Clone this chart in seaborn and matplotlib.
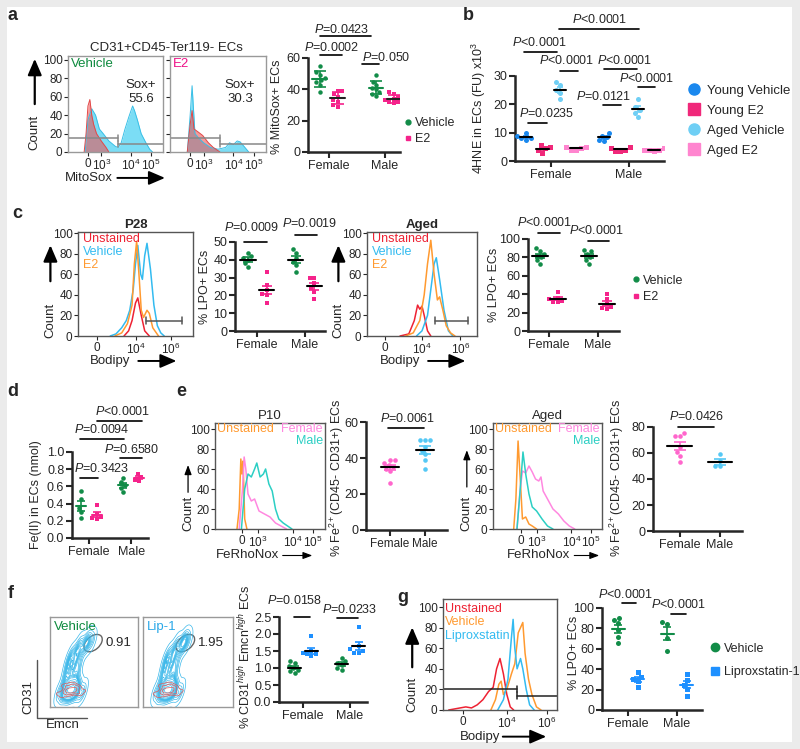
import numpy as np
import matplotlib
matplotlib.use("Agg")
import matplotlib.pyplot as plt
from matplotlib.patches import Rectangle, Ellipse
from matplotlib.lines import Line2D
import seaborn as sns

sns.set_style("ticks")
plt.rcParams["font.family"] = ["Liberation Sans", "DejaVu Sans"]
plt.rcParams["mathtext.fontset"] = "custom"
plt.rcParams["mathtext.rm"] = "Liberation Sans"
plt.rcParams["mathtext.it"] = "Liberation Sans:italic"
plt.rcParams["mathtext.bf"] = "Liberation Sans:bold"

# colours
GREEN = "#128c48"
MAG = "#f5238b"
BLUE = "#1e90ff"
YV, YE2, AV, AE2 = "#1a88ee", "#f0287a", "#6fcff5", "#ff85cf"
FEM, MAL = "#ff66cc", "#55c8f5"
RED, ORANGE, SKY, TEAL, PINK = "#ee2233", "#ff9a30", "#33bbf0", "#2ccfc4", "#ff88e0"
FS = 9  # base text size

# ---------------- data ----------------
sexes = ["Female", "Male"]

# a  % MitoSox+ ECs
a_f_veh = [55, 51, 49, 47, 46, 45, 43, 38]
a_f_e2 = [39, 39, 37, 35, 33, 32, 30, 29]
a_m_veh = [49, 45, 43, 41, 40, 38, 37, 36]
a_m_e2 = [38, 37, 35, 34, 33, 32, 32, 31]
# a histograms (x = fraction of the MitoSox axis)
a_veh_unst_x = [0.17, 0.19, 0.21, 0.23, 0.25, 0.27, 0.30, 0.35, 0.40, 0.43]
a_veh_unst_y = [0, 20, 50, 57, 40, 30, 20, 12, 5, 0]
a_veh_stain_x = [0.18, 0.21, 0.25, 0.29, 0.33, 0.37, 0.43, 0.50, 0.53, 0.56, 0.60, 0.64, 0.68, 0.70, 0.73, 0.77, 0.82, 0.86, 0.89]
a_veh_stain_y = [0, 35, 47, 40, 25, 20, 12, 6, 5, 10, 25, 38, 50, 45, 35, 20, 10, 3, 0]
a_e2_unst_x = [0.18, 0.21, 0.23, 0.25, 0.29, 0.34, 0.40, 0.45, 0.52]
a_e2_unst_y = [0, 30, 45, 25, 22, 18, 10, 5, 0]
a_e2_stain_x = [0.18, 0.21, 0.23, 0.26, 0.30, 0.35, 0.42, 0.50, 0.58, 0.62, 0.66, 0.70, 0.73, 0.78, 0.82]
a_e2_stain_y = [0, 40, 72, 20, 15, 10, 5, 3, 5, 10, 8, 12, 11, 5, 0]

# b  4HNE in ECs
b_f_yv = [10, 9, 8, 8, 7.5]
b_f_ye2 = [5.5, 5, 4.5, 4, 3]
b_f_av = [28, 27, 25, 24, 22]
b_f_ae2 = [5, 5, 4.5, 4, 4]
b_m_yv = [10, 9, 8.5, 7.5, 7]
b_m_ye2 = [5, 4.5, 4, 3.5, 3.5]
b_m_av = [22, 19, 18, 17, 15.5]
b_m_ae2 = [4.5, 4, 4, 3.5, 4]
b_groups = ["Young Vehicle", "Young E2", "Aged Vehicle", "Aged E2"]

# c  % LPO+ ECs
c28_f_veh = [44, 42, 41, 40, 38, 36]
c28_f_e2 = [33, 26, 23, 21, 20, 16]
c28_m_veh = [46, 44, 41, 39, 37, 33]
c28_m_e2 = [30, 30, 27, 24, 22, 18]
cag_f_veh = [90, 87, 84, 82, 80, 77, 73]
cag_f_e2 = [42, 36, 35, 33, 32, 31]
cag_m_veh = [88, 87, 84, 80, 77, 73]
cag_m_e2 = [40, 35, 29, 26, 25, 24]
# c histograms
c28_veh_x = [0.28, 0.33, 0.38, 0.42, 0.45, 0.48, 0.50, 0.52, 0.545, 0.56, 0.58, 0.60, 0.63, 0.66, 0.69, 0.72, 0.75]
c28_veh_y = [0, 2, 8, 15, 25, 45, 70, 88, 60, 55, 78, 90, 65, 30, 10, 3, 0]
c28_e2_x = [0.32, 0.38, 0.43, 0.47, 0.49, 0.51, 0.53, 0.55, 0.57, 0.60, 0.62, 0.65, 0.70]
c28_e2_y = [0, 3, 12, 30, 70, 92, 60, 25, 18, 25, 22, 8, 0]
c28_unst_x = [0.40, 0.44, 0.47, 0.50, 0.52, 0.55, 0.58, 0.62]
c28_unst_y = [0, 5, 15, 32, 37, 20, 5, 0]
cag_e2_x = [0.35, 0.42, 0.48, 0.52, 0.55, 0.58, 0.61, 0.64, 0.66, 0.69, 0.72, 0.76, 0.80]
cag_e2_y = [0, 3, 15, 40, 70, 93, 60, 35, 38, 25, 10, 3, 0]
cag_veh_x = [0.45, 0.50, 0.55, 0.58, 0.61, 0.63, 0.66, 0.70, 0.74, 0.78]
cag_veh_y = [0, 5, 20, 45, 70, 76, 55, 25, 5, 0]
cag_unst_x = [0.30, 0.38, 0.43, 0.46, 0.48, 0.50, 0.52, 0.55, 0.58]
cag_unst_y = [0, 2, 15, 30, 26, 29, 20, 5, 0]

# d  Fe(II) in ECs
d_f_veh = [0.55, 0.45, 0.35, 0.30, 0.23]
d_f_e2 = [0.38, 0.28, 0.24, 0.23, 0.22]
d_m_veh = [0.70, 0.65, 0.62, 0.58, 0.53]
d_m_e2 = [0.75, 0.71, 0.68, 0.66]

# e  % Fe2+ ECs
e10_f = [39, 39, 37, 36, 35, 34, 33, 26]
e10_m = [50, 50, 50, 46, 44, 42, 39, 34]
eag_f = [75, 73, 73, 65, 61, 58, 53]
eag_m = [59, 54, 50, 50]
# e histograms
e10_unst_x = [0.20, 0.22, 0.235, 0.245, 0.255, 0.27, 0.29]
e10_unst_y = [0, 20, 70, 55, 68, 10, 0]
e10_fem_x = [0.22, 0.25, 0.265, 0.28, 0.30, 0.33, 0.36, 0.40, 0.45, 0.50, 0.55, 0.60, 0.65]
e10_fem_y = [0, 40, 72, 60, 35, 28, 30, 18, 15, 12, 6, 3, 0]
e10_mal_x = [0.24, 0.27, 0.30, 0.33, 0.36, 0.38, 0.41, 0.44, 0.46, 0.49, 0.52, 0.55, 0.58, 0.62, 0.66, 0.70]
e10_mal_y = [0, 40, 55, 52, 60, 66, 52, 55, 60, 45, 38, 20, 10, 6, 3, 0]
eag_unst_x = [0.19, 0.21, 0.23, 0.25, 0.27, 0.30, 0.33, 0.36, 0.40]
eag_unst_y = [0, 30, 88, 50, 10, 12, 5, 3, 0]
eag_mal_x = [0.22, 0.25, 0.275, 0.30, 0.33, 0.36, 0.40, 0.45, 0.50, 0.55]
eag_mal_y = [0, 40, 77, 55, 35, 22, 18, 10, 3, 0]
eag_fem_x = [0.22, 0.25, 0.27, 0.30, 0.33, 0.36, 0.39, 0.42, 0.44, 0.46, 0.50, 0.55, 0.60, 0.65, 0.70, 0.75]
eag_fem_y = [0, 40, 58, 56, 63, 57, 50, 48, 52, 38, 30, 20, 15, 8, 3, 0]

# f  CD31high Emcnhigh ECs
f_f_veh = [1.2, 1.15, 1.05, 1.0, 0.95, 0.9, 0.85]
f_f_lip = [1.95, 1.5, 1.45, 1.4, 1.35, 1.4]
f_m_veh = [1.3, 1.2, 1.15, 1.1, 1.0, 0.95]
f_m_lip = [2.2, 1.65, 1.55, 1.5, 1.45, 1.45]
# f flow events (Emcn, CD31), fraction of plot
f_veh_emcn = [0.10, 0.14, 0.18, 0.22, 0.26, 0.30, 0.34, 0.38, 0.20, 0.24, 0.28, 0.16, 0.32, 0.23, 0.25, 0.21, 0.27, 0.19, 0.29,
              0.18, 0.24, 0.30, 0.20, 0.27, 0.33, 0.22, 0.30, 0.25, 0.30, 0.36, 0.34, 0.40, 0.44, 0.48, 0.42]
f_veh_cd31 = [0.15, 0.12, 0.18, 0.14, 0.20, 0.16, 0.14, 0.18, 0.22, 0.26, 0.24, 0.24, 0.22, 0.19, 0.17, 0.19, 0.18, 0.16, 0.20,
              0.34, 0.38, 0.36, 0.44, 0.46, 0.48, 0.52, 0.55, 0.58, 0.62, 0.64, 0.70, 0.72, 0.76, 0.74, 0.68]
f_lip_emcn = [0.14, 0.18, 0.22, 0.26, 0.30, 0.34, 0.38, 0.42, 0.24, 0.28, 0.32, 0.20, 0.36, 0.27, 0.29, 0.25, 0.31, 0.23, 0.33,
              0.22, 0.28, 0.34, 0.24, 0.31, 0.37, 0.26, 0.34, 0.29, 0.34, 0.40, 0.38, 0.44, 0.47, 0.50, 0.45]
f_lip_cd31 = [0.15, 0.12, 0.18, 0.14, 0.20, 0.16, 0.14, 0.18, 0.22, 0.26, 0.24, 0.24, 0.22, 0.19, 0.17, 0.19, 0.18, 0.16, 0.20,
              0.34, 0.38, 0.36, 0.44, 0.46, 0.48, 0.52, 0.55, 0.58, 0.62, 0.64, 0.70, 0.72, 0.76, 0.74, 0.68]

# g  % LPO+ ECs, liproxstatin
g_f_veh = [90, 88, 85, 78, 72, 66]
g_f_lip = [37, 32, 30, 28, 23]
g_m_veh = [86, 84, 71, 58]
g_m_lip = [35, 29, 25, 21, 14]
g_unst_x = [0.05, 0.10, 0.15, 0.20, 0.25, 0.30, 0.35, 0.40, 0.44, 0.47, 0.50, 0.53, 0.56, 0.59, 0.62]
g_unst_y = [0, 1, 2, 3, 2, 5, 10, 18, 22, 40, 50, 35, 15, 3, 0]
g_veh_x = [0.42, 0.46, 0.49, 0.51, 0.53, 0.56, 0.60, 0.63, 0.66, 0.68, 0.70, 0.72, 0.75, 0.78, 0.82, 0.86]
g_veh_y = [0, 10, 25, 28, 15, 20, 35, 45, 75, 80, 85, 55, 30, 15, 3, 0]
g_lip_x = [0.48, 0.53, 0.57, 0.60, 0.615, 0.63, 0.65, 0.68, 0.70, 0.73, 0.76, 0.80]
g_lip_y = [0, 10, 30, 70, 88, 60, 40, 50, 40, 20, 5, 0]

# ---------------- figure ----------------
W, H = 800, 749
fig = plt.figure(figsize=(W / 100, H / 100), dpi=100)
fig.patch.set_facecolor("#ebebeb")
fig.add_artist(Rectangle((7 / W, 1 - 742 / H), 785 / W, 735 / H, transform=fig.transFigure,
                         facecolor="white", edgecolor="none", zorder=-10))


def box(x0, y0, x1, y1):
    # axes from pixel corners (top-left origin)
    return fig.add_axes([x0 / W, 1 - y1 / H, (x1 - x0) / W, (y1 - y0) / H])


def P(s):
    return r"$\mathit{P}$" + s


def dots(ax, vals, pos, color, marker="o", size=3.2, err="se", mcol="k", hw=0.12, cap=3):
    v = np.asarray(vals, float)
    sns.swarmplot(x=np.full(len(v), pos), y=v, native_scale=True, orient="x", color=color,
                  marker=marker, size=size, linewidth=0, ax=ax, zorder=3)
    m = v.mean()
    e = v.std(ddof=1) if err == "sd" else v.std(ddof=1) / np.sqrt(len(v))
    ax.errorbar([pos], [m], yerr=[e], fmt="none", ecolor=color, elinewidth=1.2, capsize=cap,
                capthick=1.2, zorder=4)
    ax.plot([pos - hw, pos + hw], [m, m], color=mcol, lw=1.5, zorder=5)


def style_dot(ax, xlim, ylim, yticks, ylabel, lx, ly, fmt=None, xsize=FS):
    ax.set_xlim(*xlim)
    ax.set_ylim(*ylim)
    ax.set_xticks([0, 1])
    ax.set_xticklabels(sexes)
    ax.set_yticks(yticks)
    if fmt:
        ax.set_yticklabels([fmt % t for t in yticks])
    sns.despine(ax=ax)
    for s in ("left", "bottom"):
        ax.spines[s].set_linewidth(1.8)
    ax.tick_params(width=1.5, length=4, labelsize=FS, pad=1.5)
    ax.tick_params(axis="x", labelsize=xsize)
    ax.set_xlabel("")
    ax.set_ylabel(ylabel, fontsize=FS)
    ax.yaxis.set_label_coords(lx, ly)
    ax.patch.set_alpha(0)


def pv(ax, x0, x1, yl, text, xt, yt, size=FS):
    ax.plot([x0, x1], [yl, yl], color="k", lw=1.2, clip_on=False)
    ax.text(xt, yt, P(text), ha="center", va="center", fontsize=size, clip_on=False)


def curve(ax, xs, ys, color, lw=1.1):
    sns.lineplot(x=xs, y=ys, color=color, lw=lw, ax=ax, estimator=None, sort=False)


def style_hist(ax, ytop, xticks, xlabels, ylabels=True, spine="#555555"):
    ax.set_xlim(0, 1)
    ax.set_ylim(0, ytop)
    ax.set_yticks([0, 20, 40, 60, 80, 100])
    if not ylabels:
        ax.set_yticklabels([])
    ax.set_xticks(xticks)
    ax.set_xticklabels(xlabels)
    ax.tick_params(labelsize=8.5, length=3, pad=1)
    for s in ax.spines.values():
        s.set_color(spine)
        s.set_linewidth(1)


def count_arrow(ax, x, y0, y1, yt, thick=True):
    ax.text(x, yt, "Count", rotation=90, ha="center", va="center", fontsize=9.5, transform=ax.transAxes)
    style = "-|>,head_length=0.7,head_width=0.3" if thick else "-|>,head_length=0.4,head_width=0.15"
    ax.annotate("", xy=(x, y1), xytext=(x, y0), xycoords="axes fraction", textcoords="axes fraction",
                arrowprops=dict(arrowstyle=style, lw=1.6 if thick else 0.9, color="k", mutation_scale=14))


def x_arrow(ax, label, xt, y, xa0, xa1, thick=True):
    ax.text(xt, y, label, ha="left", va="center", fontsize=9.5, transform=ax.transAxes)
    style = "-|>,head_length=0.7,head_width=0.3" if thick else "-|>,head_length=0.4,head_width=0.15"
    ax.annotate("", xy=(xa1, y), xytext=(xa0, y), xycoords="axes fraction", textcoords="axes fraction",
                arrowprops=dict(arrowstyle=style, lw=1.4 if thick else 0.8, color="k", mutation_scale=14))


def gate(ax, x0, x1, y, color="#777777"):
    ax.plot([x0, x1], [y, y], color=color, lw=1.1)
    for xx in (x0, x1):
        if 0 < xx < 1:
            ax.plot([xx, xx], [y - 3, y + 3], color=color, lw=1.1)


def letter(x, y, s):
    fig.text(x / W, 1 - y / H, s, fontsize=13, fontweight="bold", ha="left", va="center")


sup = lambda n: r"$10^{%s}$" % n

# ---------------- panel a ----------------
letter(7, 16, "a")
ha1 = box(68, 56, 163, 152)
ha1.fill_between(a_veh_stain_x, a_veh_stain_y, color="#4fd2f2", alpha=0.75, lw=0)
ha1.fill_between(a_veh_unst_x, a_veh_unst_y, color="#ee4a4a", alpha=0.55, lw=0)
curve(ha1, a_veh_stain_x, a_veh_stain_y, "#39bfe6", 0.7)
curve(ha1, a_veh_unst_x, a_veh_unst_y, "#e24848", 0.7)
gate(ha1, 0.0, 0.53, 15, "#888888")
gate(ha1, 0.53, 1.0, 8.5, "#888888")
style_hist(ha1, 104.3, [0.21, 0.35, 0.66, 0.87], ["0", sup(3), sup(4), sup(5)], spine="#999999")
ha1.text(0.03, 0.92, "Vehicle", color="#0e8a3e", fontsize=9.5, transform=ha1.transAxes, va="center")
ha1.text(0.77, 0.70, "Sox+", fontsize=9.5, ha="center", va="center", transform=ha1.transAxes)
ha1.text(0.77, 0.55, "55.6", fontsize=9.5, ha="center", va="center", transform=ha1.transAxes)
ha1.text(1.04, 1.08, "CD31+CD45-Ter119- ECs", fontsize=9.5, ha="center", va="center", transform=ha1.transAxes)
count_arrow(ha1, -0.35, 0.47, 1.0, 0.2)
x_arrow(ha1, "MitoSox", -0.03, -0.27, 0.49, 1.05)

ha2 = box(170, 56, 266, 152)
ha2.fill_between(a_e2_stain_x, a_e2_stain_y, color="#4fd2f2", alpha=0.75, lw=0)
ha2.fill_between(a_e2_unst_x, a_e2_unst_y, color="#ee4a4a", alpha=0.55, lw=0)
curve(ha2, a_e2_stain_x, a_e2_stain_y, "#39bfe6", 0.7)
curve(ha2, a_e2_unst_x, a_e2_unst_y, "#e24848", 0.7)
gate(ha2, 0.0, 0.52, 15, "#888888")
gate(ha2, 0.52, 1.0, 8.5, "#888888")
style_hist(ha2, 104.3, [0.21, 0.35, 0.66, 0.87], ["0", sup(3), sup(4), sup(5)], ylabels=False, spine="#999999")
ha2.text(0.03, 0.92, "E2", color="#ee1188", fontsize=9.5, transform=ha2.transAxes, va="center")
ha2.text(0.73, 0.70, "Sox+", fontsize=9.5, ha="center", va="center", transform=ha2.transAxes)
ha2.text(0.73, 0.55, "30.3", fontsize=9.5, ha="center", va="center", transform=ha2.transAxes)

da = box(308, 58, 400, 152)
dots(da, a_f_veh, -0.16, GREEN, "o", 3.2, "sd", GREEN, 0.13, 4)
dots(da, a_f_e2, 0.16, MAG, "s", 3.2, "sd", "#222222", 0.13, 4)
dots(da, a_m_veh, 0.84, GREEN, "o", 3.2, "sd", GREEN, 0.13, 4)
dots(da, a_m_e2, 1.16, MAG, "s", 3.2, "sd", "#222222", 0.13, 4)
style_dot(da, (-0.37, 1.27), (0, 60), [0, 20, 40, 60], "% MitoSox+ ECs", -0.27, 0.48)
pv(da, -0.16, 0.23, 62, "=0.0002", 0.05, 66.5)
pv(da, -0.16, 0.75, 74, "=0.0423", 0.23, 78.5)
pv(da, 0.6, 0.9, 56, "=0.050", 1.03, 60.5)
da.legend(handles=[Line2D([], [], marker="o", color=GREEN, ls="none", markersize=3.5, label="Vehicle"),
                   Line2D([], [], marker="s", color=MAG, ls="none", markersize=3.5, label="E2")],
          loc="upper left", bbox_to_anchor=(0.99, 0.44), frameon=False, fontsize=FS,
          handlelength=0.5, handletextpad=0.3, borderpad=0, labelspacing=0.35)

# ---------------- panel b ----------------
letter(463, 16, "b")
db = box(515, 76, 664, 161)
b_sets = [(b_f_yv, -0.32, YV, "o"), (b_f_ye2, -0.11, YE2, "s"), (b_f_av, 0.12, AV, "o"), (b_f_ae2, 0.32, AE2, "s"),
          (b_m_yv, 0.68, YV, "o"), (b_m_ye2, 0.89, YE2, "s"), (b_m_av, 1.12, AV, "o"), (b_m_ae2, 1.32, AE2, "s")]
for vals, pos, col, mk in b_sets:
    dots(db, vals, pos, col, mk, 3.6, "se", "k", 0.08, 2.5)
style_dot(db, (-0.46, 1.45), (0, 30), [0, 10, 20, 30], r"4HNE in ECs (FU) x10$^{3}$", -0.18, 0.62)
pv(db, -0.29, -0.05, 13.4, "=0.0235", -0.05, 16.6)
pv(db, -0.35, 0.08, 38.5, "<0.0001", -0.14, 41.7)
pv(db, 0.12, 0.35, 31.8, "<0.0001", 0.2, 35.3)
pv(db, 0.10, 1.13, 46.6, "<0.0001", 0.63, 49.8)
pv(db, 0.68, 1.10, 32.5, "<0.0001", 0.95, 35.6)
pv(db, 0.67, 0.90, 19.8, "=0.0121", 0.67, 22.6)
pv(db, 1.12, 1.33, 26.1, "<0.0001", 1.23, 29.2)
db.legend(handles=[Line2D([], [], marker=m, color=c, ls="none", markersize=8, label=l)
                   for l, c, m in zip(b_groups, [YV, YE2, AV, AE2], ["o", "s", "o", "s"])],
          loc="upper left", bbox_to_anchor=(1.12, 0.98), frameon=False, fontsize=9.5,
          handlelength=0.8, handletextpad=0.6, borderpad=0, labelspacing=0.6)

# ---------------- panel c ----------------
letter(12, 214, "c")
hc1 = box(78, 232, 193, 336)
curve(hc1, c28_unst_x, c28_unst_y, RED)
curve(hc1, c28_veh_x, c28_veh_y, SKY)
curve(hc1, c28_e2_x, c28_e2_y, ORANGE)
gate(hc1, 0.59, 0.9, 15, "#555555")
style_hist(hc1, 101, [0.165, 0.5, 0.81], ["0", sup(4), sup(6)])
hc1.set_title("P28", fontsize=9.5, fontweight="bold", pad=3)
for t, c, y in [("Unstained", RED, 0.93), ("Vehicle", SKY, 0.81), ("E2", ORANGE, 0.68)]:
    hc1.text(0.045, y, t, color=c, fontsize=FS, va="center", transform=hc1.transAxes)
count_arrow(hc1, -0.24, 0.5, 0.9, 0.15)
x_arrow(hc1, "Bodipy", 0.1, -0.24, 0.5, 0.88)

dc1 = box(235, 242, 325, 331)
dots(dc1, c28_f_veh, -0.19, GREEN, "o", 3.3, "se", "k", 0.16, 3.5)
dots(dc1, c28_f_e2, 0.2, MAG, "s", 3.3, "se", "k", 0.16, 3.5)
dots(dc1, c28_m_veh, 0.81, GREEN, "o", 3.3, "se", "k", 0.16, 3.5)
dots(dc1, c28_m_e2, 1.2, MAG, "s", 3.3, "se", "k", 0.16, 3.5)
style_dot(dc1, (-0.46, 1.42), (0, 50), [0, 10, 20, 30, 40, 50], "% LPO+ ECs", -0.27, 0.5)
pv(dc1, -0.27, 0.2, 50, "=0.0009", -0.12, 58.4)
pv(dc1, 0.8, 1.25, 54, "=0.0019", 1.1, 60.5)

hc2 = box(367, 232, 477, 336)
curve(hc2, cag_unst_x, cag_unst_y, RED)
curve(hc2, cag_veh_x, cag_veh_y, SKY)
curve(hc2, cag_e2_x, cag_e2_y, ORANGE)
gate(hc2, 0.62, 0.92, 15, "#555555")
style_hist(hc2, 101, [0.16, 0.5, 0.85], ["0", sup(4), sup(6)])
hc2.set_title("Aged", fontsize=9.5, fontweight="bold", pad=3)
for t, c, y in [("Unstained", RED, 0.93), ("Vehicle", SKY, 0.81), ("E2", ORANGE, 0.68)]:
    hc2.text(0.045, y, t, color=c, fontsize=FS, va="center", transform=hc2.transAxes)
count_arrow(hc2, -0.26, 0.5, 0.9, 0.15)
x_arrow(hc2, "Bodipy", 0.12, -0.24, 0.53, 0.92)

dc2 = box(528, 239, 619, 331)
dots(dc2, cag_f_veh, -0.18, GREEN, "o", 3.3, "se", "k", 0.16, 3.5)
dots(dc2, cag_f_e2, 0.18, MAG, "s", 3.3, "se", "k", 0.16, 3.5)
dots(dc2, cag_m_veh, 0.82, GREEN, "o", 3.3, "se", "k", 0.16, 3.5)
dots(dc2, cag_m_e2, 1.18, MAG, "s", 3.3, "se", "k", 0.16, 3.5)
style_dot(dc2, (-0.43, 1.43), (0, 100), [0, 20, 40, 60, 80, 100], "% LPO+ ECs", -0.31, 0.5)
pv(dc2, -0.22, 0.22, 106.5, "<0.0001", -0.08, 118)
pv(dc2, 0.8, 1.22, 97.8, "<0.0001", 0.98, 108.7)
dc2.legend(handles=[Line2D([], [], marker="o", color=GREEN, ls="none", markersize=3.5, label="Vehicle"),
                    Line2D([], [], marker="s", color=MAG, ls="none", markersize=3.5, label="E2")],
           loc="upper left", bbox_to_anchor=(1.08, 0.68), frameon=False, fontsize=FS,
           handlelength=0.5, handletextpad=0.3, borderpad=0, labelspacing=0.35)

# ---------------- panel d ----------------
letter(7, 391, "d")
dd = box(72, 452, 148, 538)
dots(dd, d_f_veh, -0.19, GREEN, "o", 3.3, "se", GREEN, 0.12, 3)
dots(dd, d_f_e2, 0.19, MAG, "s", 3.3, "se", MAG, 0.12, 3)
dots(dd, d_m_veh, 0.81, GREEN, "o", 3.3, "se", GREEN, 0.12, 3)
dots(dd, d_m_e2, 1.19, MAG, "s", 3.3, "se", MAG, 0.12, 3)
style_dot(dd, (-0.4, 1.4), (0, 1.0), [0, 0.2, 0.4, 0.6, 0.8, 1.0], "Fe(II) in ECs (nmol)", -0.4, 0.5, "%.1f")
pv(dd, -0.21, 0.21, 0.70, "=0.3423", 0.31, 0.81)
pv(dd, 0.74, 1.26, 0.93, "=0.6580", 1.02, 1.03)
pv(dd, -0.21, 0.83, 1.15, "=0.0094", 0.31, 1.26)
pv(dd, 0.19, 1.26, 1.36, "<0.0001", 0.79, 1.47)

# ---------------- panel e ----------------
letter(176, 391, "e")
he1 = box(215, 423, 325, 529)
curve(he1, e10_unst_x, e10_unst_y, ORANGE)
curve(he1, e10_fem_x, e10_fem_y, PINK)
curve(he1, e10_mal_x, e10_mal_y, TEAL)
style_hist(he1, 106, [0.245, 0.39, 0.71, 0.89], ["0", sup(3), sup(4), sup(5)])
he1.set_title("P10", fontsize=9.5, pad=3)
he1.text(0.02, 0.94, "Unstained", color=ORANGE, fontsize=FS, va="center", transform=he1.transAxes)
he1.text(0.98, 0.94, "Female", color=PINK, fontsize=FS, va="center", ha="right", transform=he1.transAxes)
he1.text(0.98, 0.83, "Male", color=TEAL, fontsize=FS, va="center", ha="right", transform=he1.transAxes)
count_arrow(he1, -0.245, 0.32, 0.63, 0.15, thick=False)
x_arrow(he1, "FeRhoNox", 0.01, -0.25, 0.59, 0.91, thick=False)

de1 = box(366, 422, 447, 530)
dots(de1, e10_f, 0.0, FEM, "o", 3.3, "se", "k", 0.26, 4.5)
dots(de1, e10_m, 1.0, MAL, "o", 3.3, "se", "k", 0.26, 4.5)
style_dot(de1, (-0.69, 1.63), (0, 60), [0, 20, 40, 60], r"% Fe$^{2+}$(CD45- CD31+) ECs", -0.25, 0.48, xsize=8.5)
pv(de1, -0.06, 0.97, 56.7, "=0.0061", 0.49, 61.7)

he2 = box(493, 423, 602, 529)
curve(he2, eag_unst_x, eag_unst_y, ORANGE)
curve(he2, eag_fem_x, eag_fem_y, PINK)
curve(he2, eag_mal_x, eag_mal_y, TEAL)
style_hist(he2, 106, [0.255, 0.4, 0.72, 0.9], ["0", sup(3), sup(4), sup(5)])
he2.set_title("Aged", fontsize=9.5, pad=3)
he2.text(0.02, 0.94, "Unstained", color=ORANGE, fontsize=FS, va="center", transform=he2.transAxes)
he2.text(0.98, 0.94, "Female", color=PINK, fontsize=FS, va="center", ha="right", transform=he2.transAxes)
he2.text(0.98, 0.83, "Male", color=TEAL, fontsize=FS, va="center", ha="right", transform=he2.transAxes)
count_arrow(he2, -0.24, 0.37, 0.77, 0.15, thick=False)
x_arrow(he2, "FeRhoNox", 0.13, -0.25, 0.72, 1.0, thick=False)

de2 = box(653, 427, 742, 531)
dots(de2, eag_f, 0.0, FEM, "o", 3.3, "se", "k", 0.31, 4.5)
dots(de2, eag_m, 1.0, MAL, "o", 3.3, "se", "k", 0.31, 4.5)
style_dot(de2, (-0.67, 1.55), (0, 80), [0, 20, 40, 60, 80], r"% Fe$^{2+}$(CD45- CD31+) ECs", -0.3, 0.51)
pv(de2, -0.05, 0.85, 80, "=0.0426", 0.42, 87.7)

# ---------------- panel f ----------------
letter(8, 594, "f")
for bx, ex, ey, lab, lcol, val, ecx in [((50, 617, 138, 707), f_veh_emcn, f_veh_cd31, "Vehicle", "#0e8a3e", "0.91", 0.49),
                                        ((143, 617, 233, 707), f_lip_emcn, f_lip_cd31, "Lip-1", "#2aa8e8", "1.95", 0.47)]:
    fc = box(*bx)
    sns.kdeplot(x=ex, y=ey, ax=fc, levels=16, color="#3bb8ea", linewidths=0.5, bw_adjust=0.65, thresh=0.02)
    sns.kdeplot(x=ex[:19], y=ey[:19], ax=fc, levels=4, color="#e05a5a", linewidths=0.5, bw_adjust=0.8, thresh=0.15)
    fc.add_patch(Ellipse((ecx, 0.71), 0.24, 0.15, angle=40, transform=fc.transAxes,
                         facecolor="none", edgecolor="#666666", lw=1.0))
    fc.text(0.04, 0.89, lab, color=lcol, fontsize=9.5, va="center", transform=fc.transAxes)
    fc.text(ecx + 0.14, 0.71, val, fontsize=9.5, va="center", transform=fc.transAxes)
    fc.set_xlim(0, 1)
    fc.set_ylim(0, 1)
    fc.set_xticks([])
    fc.set_yticks([])
    fc.set_xlabel("")
    fc.set_ylabel("")
    for s in fc.spines.values():
        s.set_color("#999999")
        s.set_linewidth(1)
    if lab == "Vehicle":
        fc.plot([-0.15, -0.15, 0.42], [0.52, -0.12, -0.12], color="#555555", lw=1.0, clip_on=False)
        fc.text(-0.25, 0.11, "CD31", rotation=90, fontsize=9.5, ha="center", va="center", transform=fc.transAxes)
        fc.text(0.14, -0.2, "Emcn", fontsize=9.5, ha="center", va="center", transform=fc.transAxes)

df = box(279, 617, 367, 702)
dots(df, f_f_veh, -0.18, GREEN, "o", 3.3, "se", "k", 0.13, 3)
dots(df, f_f_lip, 0.18, BLUE, "s", 3.3, "se", "k", 0.13, 3)
dots(df, f_m_veh, 0.82, GREEN, "o", 3.3, "se", "k", 0.13, 3)
dots(df, f_m_lip, 1.18, BLUE, "s", 3.3, "se", "k", 0.13, 3)
style_dot(df, (-0.51, 1.36), (0, 2.5), [0, 0.5, 1.0, 1.5, 2.0, 2.5],
          r"% CD31$^{high}$ Emcn$^{high}$ ECs", -0.29, 0.53, "%.1f")
pv(df, -0.2, 0.15, 2.5, "=0.0158", -0.17, 3.0)
pv(df, 0.72, 1.17, 2.47, "=0.0233", 1.0, 2.72)

# ---------------- panel g ----------------
letter(397, 597, "g")
hg = box(443, 599, 557, 710)
curve(hg, g_unst_x, g_unst_y, RED)
curve(hg, g_veh_x, g_veh_y, ORANGE)
curve(hg, g_lip_x, g_lip_y, SKY)
gate(hg, 0.0, 0.65, 20, "#222222")
gate(hg, 0.65, 1.0, 14, "#222222")
style_hist(hg, 107.8, [0.175, 0.56, 0.91], ["0", sup(4), sup(6)])
for t, c, y in [("Unstained", RED, 0.91), ("Vehicle", ORANGE, 0.79), ("Liproxstatin", SKY, 0.67)]:
    hg.text(0.02, y, t, color=c, fontsize=FS, va="center", transform=hg.transAxes)
count_arrow(hg, -0.27, 0.36, 0.77, 0.14)
x_arrow(hg, "Bodipy", 0.15, -0.24, 0.5, 0.93)

dg = box(602, 608, 702, 710)
dots(dg, g_f_veh, -0.2, GREEN, "o", 3.6, "se", GREEN, 0.13, 3)
dots(dg, g_f_lip, 0.2, BLUE, "s", 3.6, "se", BLUE, 0.13, 3)
dots(dg, g_m_veh, 0.8, GREEN, "o", 3.6, "se", GREEN, 0.13, 3)
dots(dg, g_m_lip, 1.2, BLUE, "s", 3.6, "se", BLUE, 0.13, 3)
style_dot(dg, (-0.53, 1.51), (0, 100), [0, 20, 40, 60, 80, 100], "% LPO+ ECs", -0.22, 0.56)
pv(dg, -0.12, 0.16, 105, "<0.0001", -0.04, 113)
pv(dg, 0.88, 1.18, 94, "<0.0001", 1.04, 103)
dg.legend(handles=[Line2D([], [], marker="o", color=GREEN, ls="none", markersize=6, label="Vehicle"),
                   Line2D([], [], marker="s", color=BLUE, ls="none", markersize=6, label="Liproxstatin-1")],
          loc="upper left", bbox_to_anchor=(1.03, 0.72), frameon=False, fontsize=FS,
          handlelength=0.6, handletextpad=0.4, borderpad=0, labelspacing=0.9)

fig.savefig("out.png", dpi=100, facecolor=fig.get_facecolor())
